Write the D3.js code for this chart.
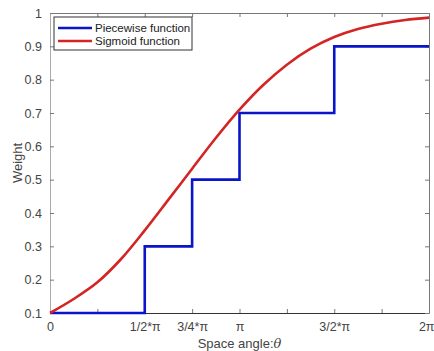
<html>
 <head>
  <meta charset="utf-8">
  <script src="https://d3js.org/d3.v7.min.js"></script>
  <style>
   body { margin: 0; background: #fff; }
   text { font-family: "Liberation Sans", Arial, sans-serif; }
  </style>
 </head>
 <body>
  <script>
   var w = 434, h = 351;
   var m = {left: 50, right: 5, top: 13, bottom: 38};
   var PI = Math.PI;

   // tick positions every pi/4, only some labelled
   var xTicks = [0, PI/4, PI/2, 3*PI/4, PI, 5*PI/4, 3*PI/2, 7*PI/4, 2*PI];
   var xTickLabels = ["0", "", "1/2*\u03c0", "3/4*\u03c0", "\u03c0", "", "3/2*\u03c0", "", "2\u03c0"];
   var yTicks = [0.1, 0.2, 0.3, 0.4, 0.5, 0.6, 0.7, 0.8, 0.9, 1];

   // piecewise function: step starts and values
   var stepAngles = [0, PI/2, 3*PI/4, PI, 3*PI/2, 2*PI];
   var stepValues = [0.1, 0.3, 0.5, 0.7, 0.9, 0.9];

   // sigmoid curve, read at every pi/8
   var sigAngles = d3.range(0, 17).map(function(k) { return k * PI / 8; });
   var sigValues = [0.100, 0.142, 0.192, 0.262, 0.348, 0.440, 0.533, 0.625, 0.710,
                    0.784, 0.845, 0.893, 0.928, 0.952, 0.968, 0.979, 0.986];

   var svg = d3.select("body").append("svg")
               .attr("width", w)
               .attr("height", h);

   var x = d3.scaleLinear().domain([0, 2*PI]).range([m.left, w - m.right]);
   var y = d3.scaleLinear().domain([0.1, 1]).range([h - m.bottom, m.top]);

   var fmtX = function(d, i) { return xTickLabels[i]; };

   // axes (ticks inside like matlab)
   var gBottom = svg.append("g").attr("transform", "translate(0," + y(0.1) + ")")
      .call(d3.axisBottom(x).tickValues(xTicks).tickSizeInner(-4).tickSizeOuter(0).tickPadding(9).tickFormat(fmtX));
   var gTop = svg.append("g").attr("transform", "translate(0," + y(1) + ")")
      .call(d3.axisTop(x).tickValues(xTicks).tickSizeInner(-4).tickSizeOuter(0).tickFormat(""));
   var gLeft = svg.append("g").attr("transform", "translate(" + x(0) + ",0)")
      .call(d3.axisLeft(y).tickValues(yTicks).tickSizeInner(-4).tickSizeOuter(0).tickPadding(8).tickFormat(d3.format("")));
   var gRight = svg.append("g").attr("transform", "translate(" + x(2*PI) + ",0)")
      .call(d3.axisRight(y).tickValues(yTicks).tickSizeInner(-4).tickSizeOuter(0).tickFormat(""));

   [gBottom, gTop, gLeft, gRight].forEach(function(g) {
    g.selectAll("text").attr("fill", "#444").style("font-size", "12.5px");
    g.selectAll("line").attr("stroke", "#777");
   });
   gBottom.select(".domain").attr("stroke", "#333");
   gTop.select(".domain").attr("stroke", "#777");
   gLeft.select(".domain").attr("stroke", "#aaa");
   gRight.select(".domain").attr("stroke", "#777");
   // last label sits at the window edge, keep it inside
   gBottom.selectAll(".tick text").filter(function(d, i) { return i === xTicks.length - 1; })
      .attr("text-anchor", "end").attr("dx", "5");

   // lines
   var stepLine = d3.line()
       .x(function(d) { return x(d[0]); })
       .y(function(d) { return y(d[1]); })
       .curve(d3.curveStepAfter);
   var sigLine = d3.line()
       .x(function(d) { return x(d[0]); })
       .y(function(d) { return y(d[1]); })
       .curve(d3.curveCatmullRom);

   svg.append("path")
      .datum(d3.zip(stepAngles, stepValues))
      .attr("fill", "none")
      .attr("stroke", "#0a14c8")
      .attr("stroke-width", 2.6)
      .attr("d", stepLine);

   svg.append("path")
      .datum(d3.zip(sigAngles, sigValues))
      .attr("fill", "none")
      .attr("stroke", "#d42424")
      .attr("stroke-width", 2.6)
      .attr("d", sigLine);

   // axis labels
   svg.append("text")
      .attr("x", (x(0) + x(2*PI)) / 2)
      .attr("y", 348)
      .attr("text-anchor", "middle")
      .attr("fill", "#444")
      .style("font-size", "13px")
      .html('Space angle:<tspan font-style="italic" font-family="DejaVu Serif">\u03b8</tspan>');

   svg.append("text")
      .attr("transform", "translate(22," + y(0.55) + ") rotate(-90)")
      .attr("text-anchor", "middle")
      .attr("fill", "#444")
      .style("font-size", "13px")
      .text("Weight");

   // legend
   var names = ["Piecewise function", "Sigmoid function"];
   var colors = ["#0a14c8", "#d42424"];
   var lg = svg.append("g").attr("transform", "translate(54,17)");
   lg.append("rect")
     .attr("width", 138).attr("height", 33)
     .attr("fill", "#fff").attr("stroke", "#333").attr("stroke-width", 1);
   names.forEach(function(n, i) {
    lg.append("line")
      .attr("x1", 4).attr("x2", 38)
      .attr("y1", 11 + i * 13).attr("y2", 11 + i * 13)
      .attr("stroke", colors[i]).attr("stroke-width", 2.6);
    lg.append("text")
      .attr("x", 41).attr("y", 15 + i * 13)
      .attr("fill", "#222")
      .style("font-size", "11.5px")
      .text(n);
   });
  </script>
 </body>
</html>
